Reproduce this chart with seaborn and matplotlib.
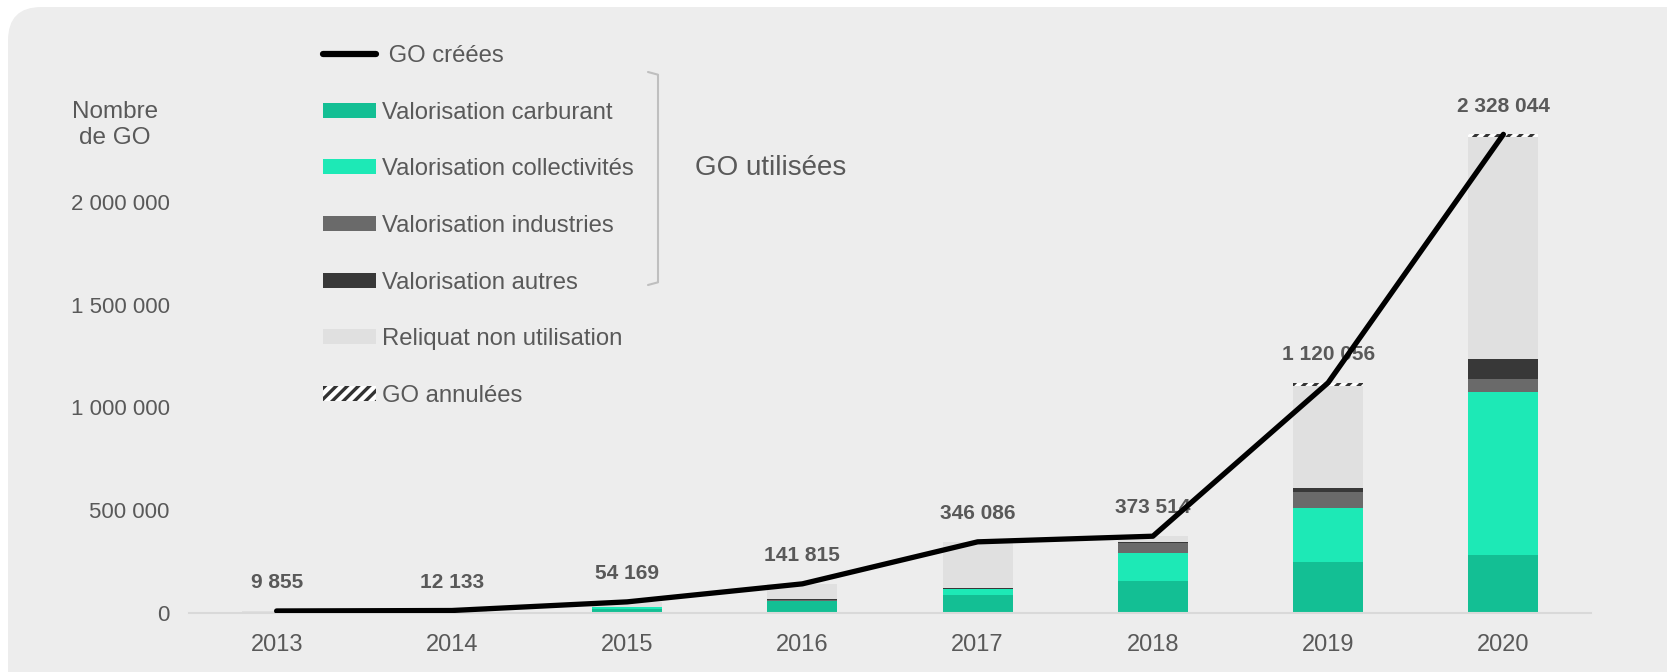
import numpy as np
import pandas as pd
import matplotlib
matplotlib.use("Agg")
import matplotlib.pyplot as plt
import seaborn as sns
from matplotlib.patches import Patch, FancyBboxPatch
from matplotlib.lines import Line2D

# ---------------- data ----------------
years = ["2013", "2014", "2015", "2016", "2017", "2018", "2019", "2020"]
go_creees = [9855, 12133, 54169, 141815, 346086, 373514, 1120056, 2328044]
val_carburant = [1000, 3000, 21000, 57000, 88000, 154000, 247000, 280000]
val_collectivites = [0, 1000, 8000, 3000, 28000, 140000, 264000, 795000]
val_industries = [0, 0, 0, 1000, 2000, 45000, 76000, 63000]
val_autres = [0, 0, 0, 5000, 5000, 7000, 23000, 96000]
reliquat = [8855, 8133, 24169, 73815, 220086, 26514, 496056, 1083044]
go_annulees = [0, 0, 1000, 2000, 3000, 1000, 14000, 11000]
value_labels = ["9 855", "12 133", "54 169", "141 815", "346 086", "373 514", "1 120 056", "2 328 044"]
ytick_vals = [0, 500000, 1000000, 1500000, 2000000]
ytick_labels = ["0", "500 000", "1 000 000", "1 500 000", "2 000 000"]

layers = [
    ("Valorisation carburant", val_carburant, "#13BF94"),
    ("Valorisation collectivités", val_collectivites, "#1DE9B6"),
    ("Valorisation industries", val_industries, "#6A6A6A"),
    ("Valorisation autres", val_autres, "#383838"),
    ("Reliquat non utilisation", reliquat, "#E0E0E0"),
    ("GO annulées", go_annulees, "#FFFFFF"),
]

# ---------------- style ----------------
sns.set_theme(style="white")
plt.rcParams["font.family"] = ["Liberation Sans", "DejaVu Sans"]
plt.rcParams["hatch.linewidth"] = 2.4
plt.rcParams["hatch.color"] = "#333333"

BG = "#EDEDED"
TXT = "#595959"

fig = plt.figure(figsize=(16.67, 6.72), dpi=100)
fig.patch.set_facecolor("white")
panel = FancyBboxPatch((8 / 1667, -0.05), 1.2, 1.05 - 7 / 672,
                       boxstyle="round,pad=0,rounding_size=0.02",
                       transform=fig.transFigure, facecolor=BG, edgecolor="none",
                       mutation_aspect=1667 / 672, zorder=-10)
fig.patches.append(panel)

ax = fig.add_axes([189 / 1667, 59 / 672, 1402 / 1667, 514 / 672])
ax.set_facecolor(BG)
ax.patch.set_alpha(0)

# cumulative stacked bars drawn from the top layer downwards
cum = np.zeros(len(years))
cums = []
for name, vals, col in layers:
    cum = cum + np.array(vals, dtype=float)
    cums.append(cum.copy())

for (name, vals, col), c in reversed(list(zip(layers, cums))):
    df = pd.DataFrame({"year": years, "value": c})
    if name == "GO annulées":
        sns.barplot(data=df, x="year", y="value", ax=ax, color=col, width=0.4,
                    hatch="///", edgecolor="#333333", linewidth=0, saturation=1,
                    errorbar=None)
    else:
        sns.barplot(data=df, x="year", y="value", ax=ax, color=col, width=0.4,
                    edgecolor="none", linewidth=0, saturation=1, errorbar=None)

# GO créées line
ldf = pd.DataFrame({"pos": np.arange(len(years)), "go": go_creees})
sns.lineplot(data=ldf, x="pos", y="go", ax=ax, color="black", linewidth=3.8,
             solid_capstyle="round", solid_joinstyle="round", zorder=5)

for i, (v, lab) in enumerate(zip(go_creees, value_labels)):
    ax.annotate(lab, (i, v), xytext=(0, 13.5), textcoords="offset points",
                ha="center", va="bottom", fontsize=15, fontweight="bold", color=TXT)

ax.set_xlim(-0.5, len(years) - 0.5)
ax.set_ylim(0, 2500000)
ax.set_yticks(ytick_vals)
ax.set_yticklabels(ytick_labels)
ax.set_xlabel("")
ax.set_ylabel("")
ax.tick_params(axis="y", length=0, pad=14, labelsize=16, labelcolor=TXT)
ax.tick_params(axis="x", length=0, pad=15, labelsize=17, labelcolor=TXT)
for s in ["top", "right", "left"]:
    ax.spines[s].set_visible(False)
ax.spines["bottom"].set_color("#D9D9D9")
ax.spines["bottom"].set_linewidth(1.5)
ax.grid(False)

# y axis title
fig.text(115 / 1667, 1 - 125 / 672, "Nombre\nde GO", ha="center", va="center",
         fontsize=17.5, color=TXT, linespacing=1.2)

# legend
handles = [Line2D([0], [0], color="black", linewidth=4.5)]
labels = [" GO créées"]
for name, vals, col in layers:
    if name == "GO annulées":
        handles.append(Patch(facecolor="white", edgecolor="#333333", hatch="///", linewidth=0))
    else:
        handles.append(Patch(facecolor=col, edgecolor="none"))
    labels.append(name)
leg = ax.legend(handles, labels, loc="upper left",
                bbox_to_anchor=(323 / 1667, 1 - 45 / 672), bbox_transform=fig.transFigure,
                frameon=False, fontsize=17.2, labelcolor=TXT, handlelength=2.2,
                handleheight=0.6, handletextpad=0.25, labelspacing=1.45,
                borderaxespad=0, borderpad=0)

# bracket for "GO utilisées"
bx = 658 / 1667
y1 = 1 - 72 / 672
y2 = 1 - 285 / 672
hook = 10 / 1667
fig.add_artist(Line2D([bx - hook, bx, bx, bx - hook], [y1, y1 - 0.004, y2 + 0.004, y2],
                      transform=fig.transFigure, color="#BFBFBF", linewidth=1.5))
fig.text(695 / 1667, 1 - 168 / 672, "GO utilisées", ha="left", va="center",
         fontsize=20, color=TXT)

fig.savefig("out.png", dpi=100, facecolor=fig.get_facecolor())
